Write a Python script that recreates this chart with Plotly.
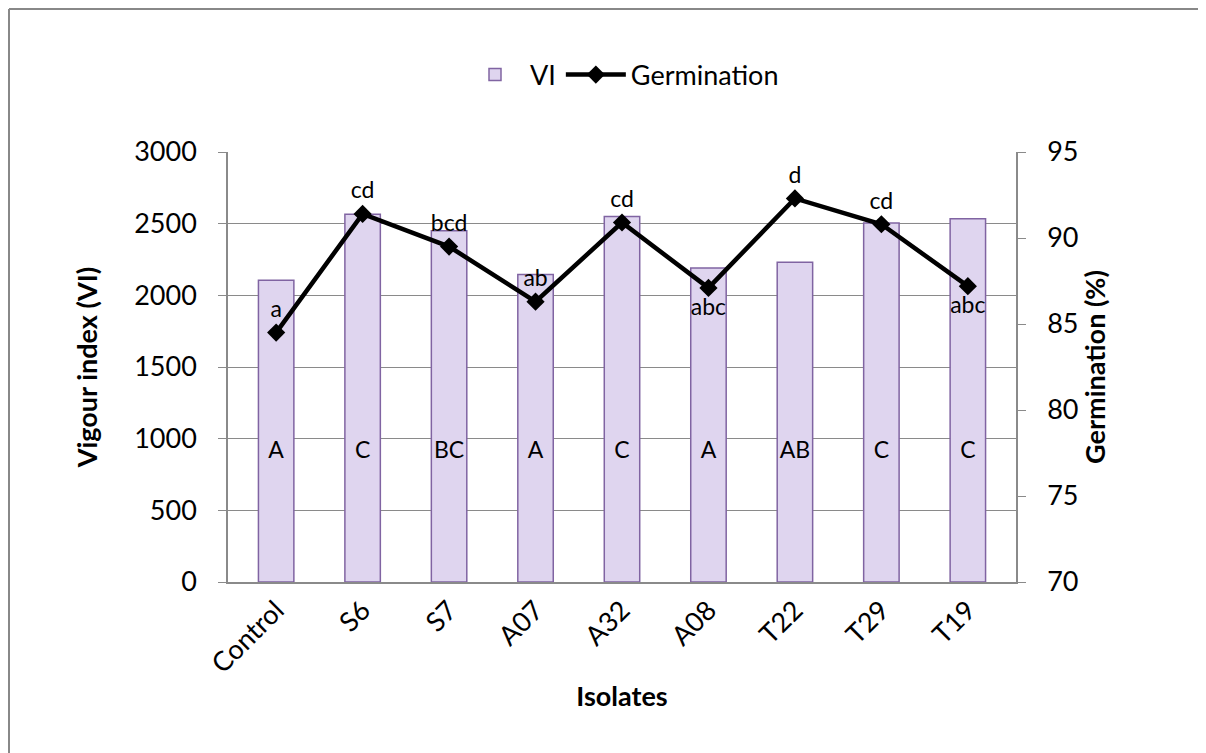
import plotly.graph_objects as go

categories = ["Control", "S6", "S7", "A07", "A32", "A08", "T22", "T29", "T19"]
vi_values = [2105, 2565, 2450, 2145, 2550, 2190, 2230, 2505, 2535]
germination = [84.5, 91.4, 89.5, 86.3, 90.9, 87.1, 92.3, 90.8, 87.2]
germ_letters = ["a", "cd", "bcd", "ab", "cd", "abc", "d", "cd", "abc"]
germ_letter_pos = ["top center", "top center", "top center", "top center", "top center",
                   "bottom center", "top center", "top center", "bottom center"]
vi_letters = ["A", "C", "BC", "A", "C", "A", "AB", "C", "C"]
vi_letter_level = 905

FONT = "Lato, 'Open Sans', sans-serif"
GRID = "#8a8a8a"
FS = 27
LS = 23

fig = go.Figure()
fig.add_trace(go.Bar(
    x=categories, y=vi_values, name="VI",
    marker=dict(color="#DFD5EF", line=dict(color="#8064A2", width=1.5)),
    yaxis="y",
))
fig.add_trace(go.Scatter(
    x=categories, y=[vi_letter_level] * len(categories), mode="text",
    text=vi_letters, textfont=dict(size=LS, color="black", family=FONT),
    showlegend=False, yaxis="y", hoverinfo="skip",
))
fig.add_trace(go.Scatter(
    x=categories, y=germination, name="Germination", yaxis="y2",
    mode="lines+markers+text",
    line=dict(color="black", width=4.5),
    marker=dict(symbol="diamond", size=14, color="black"),
    text=germ_letters, textposition=germ_letter_pos,
    textfont=dict(size=LS, color="black", family=FONT),
))

W, H = 1206, 753
L, R, T, B = 220, 198, 144, 179
pw, ph = W - L - R, H - T - B

fig.update_layout(
    width=W, height=H,
    margin=dict(l=L, r=R, t=T, b=B, autoexpand=False),
    paper_bgcolor="white", plot_bgcolor="white",
    font=dict(family=FONT, size=FS, color="black"),
    bargap=0.59,
    showlegend=True,
    legend=dict(orientation="h", x=0.5, xanchor="center",
                y=1 + (T - 67) / ph, yanchor="middle",
                font=dict(size=FS), traceorder="normal", itemwidth=60),
    xaxis=dict(
        tickangle=-45, showgrid=False, showline=True, linecolor=GRID, linewidth=1.5,
        ticks="", tickfont=dict(size=FS),
        title=dict(text="<b>Isolates</b>", font=dict(size=FS), standoff=9),
    ),
    yaxis=dict(
        range=[0, 3000], tickvals=[0, 500, 1000, 1500, 2000, 2500, 3000],
        showgrid=True, gridcolor=GRID, gridwidth=1.2,
        showline=True, linecolor=GRID, linewidth=1.5,
        ticks="outside", ticklen=8, tickcolor=GRID, tickfont=dict(size=FS),
        ticklabelstandoff=16,
        zeroline=False,
        title=dict(text="<b>Vigour index (VI)</b>", font=dict(size=FS), standoff=29),
    ),
    yaxis2=dict(
        range=[70, 95], tickvals=[70, 75, 80, 85, 90, 95],
        overlaying="y", side="right", showgrid=False,
        showline=True, linecolor=GRID, linewidth=1.5,
        ticks="outside", ticklen=8, tickcolor=GRID, tickfont=dict(size=FS),
        ticklabelstandoff=16,
        zeroline=False,
        title=dict(text="<b>Germination (%)</b>", font=dict(size=FS), standoff=9),
    ),
)

# outer chart border (top and left visible in the reference)
x_left = (1 - L) / pw
y_top = 1 + (T - 1) / ph
fig.add_shape(type="line", xref="paper", yref="paper", x0=x_left, x1=(W - L) / pw,
              y0=y_top, y1=y_top, line=dict(color="#888888", width=2))
fig.add_shape(type="line", xref="paper", yref="paper", x0=x_left, x1=x_left,
              y0=y_top, y1=-B / ph, line=dict(color="#888888", width=2))

fig.write_html("out.html")
